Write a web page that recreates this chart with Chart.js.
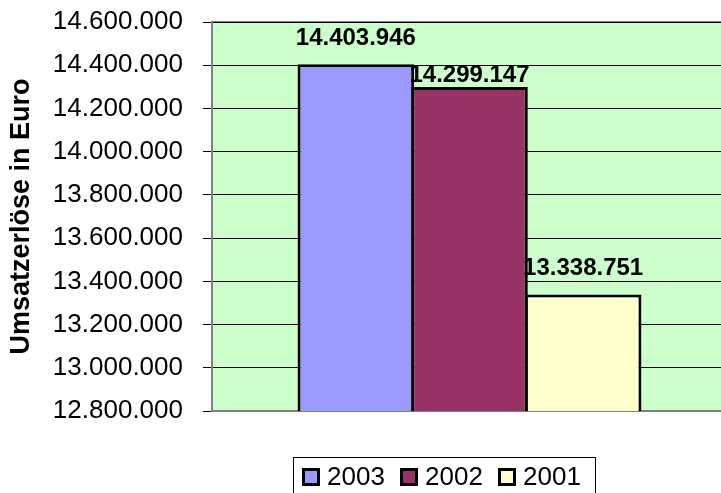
<!DOCTYPE html>
<html>
<head>
<meta charset="utf-8">
<script src="https://cdn.jsdelivr.net/npm/chart.js@4"></script>
<style>
  html, body { margin: 0; padding: 0; background: #fff; overflow: hidden; }
  #wrap { width: 740px; height: 493px; }
</style>
</head>
<body>
<div id="wrap"><canvas id="umsatz" width="740" height="493"></canvas></div>
<script>
  // values
  const years = ['2003', '2002', '2001'];
  const umsatz = [14403946, 14299147, 13338751];
  const barColors = ['#9999FF', '#993366', '#FFFFCC'];
  const yMin = 12800000, yMax = 14600000, yStep = 200000;

  const FONT = '"Liberation Sans", Arial, sans-serif';
  const fmt = v => String(Math.round(v)).replace(/\B(?=(\d{3})+(?!\d))/g, '.');

  // green plot area + top border
  const plotBg = {
    id: 'plotBg',
    beforeDraw(chart) {
      const {ctx, chartArea: a} = chart;
      ctx.save();
      ctx.fillStyle = '#CCFFCC';
      ctx.fillRect(a.left, a.top, a.right - a.left, a.bottom - a.top);
      ctx.strokeStyle = '#808080';
      ctx.lineWidth = 2;
      ctx.beginPath();
      ctx.moveTo(a.left, a.top); ctx.lineTo(a.right, a.top);
      ctx.stroke();
      ctx.restore();
    }
  };

  // value labels above bars
  const valueLabels = {
    id: 'valueLabels',
    afterDatasetsDraw(chart, args, opts) {
      const {ctx} = chart;
      ctx.save();
      ctx.font = 'bold 24px ' + FONT;
      ctx.fillStyle = '#000';
      ctx.textAlign = 'center';
      ctx.textBaseline = 'alphabetic';
      chart.data.datasets.forEach((ds, i) => {
        const bar = chart.getDatasetMeta(i).data[0];
        ctx.fillText(fmt(ds.data[0]), bar.x, bar.y - opts.gaps[i]);
      });
      ctx.restore();
    }
  };

  // boxed legend under the chart
  const boxLegend = {
    id: 'boxLegend',
    afterDraw(chart) {
      const {ctx} = chart;
      ctx.save();
      ctx.strokeStyle = '#000';
      ctx.lineWidth = 1;
      ctx.strokeRect(293.5, 457.5, 302, 60);
      ctx.font = '26px ' + FONT;
      ctx.textBaseline = 'middle';
      ctx.textAlign = 'left';
      chart.data.datasets.forEach((ds, i) => {
        const x = 302 + i * 98, y = 468;
        ctx.fillStyle = ds.backgroundColor;
        ctx.fillRect(x + 1.5, y + 1.5, 15, 15);
        ctx.lineWidth = 3;
        ctx.strokeRect(x + 1.5, y + 1.5, 15, 15);
        ctx.fillStyle = '#000';
        ctx.fillText(ds.label, x + 25, y + 10);
      });
      ctx.restore();
    }
  };

  new Chart(document.getElementById('umsatz'), {
    type: 'bar',
    data: {
      labels: [''],
      datasets: years.map((y, i) => ({
        label: y,
        data: [umsatz[i]],
        backgroundColor: barColors[i],
        borderColor: '#000',
        borderWidth: 3,
        borderSkipped: false
      }))
    },
    options: {
      responsive: false,
      animation: false,
      layout: { padding: { left: 0, right: 13, top: 22, bottom: 82 } },
      datasets: { bar: { categoryPercentage: 0.662, barPercentage: 1.026 } },
      plugins: {
        legend: { display: false },
        tooltip: { enabled: false },
        valueLabels: { gaps: [19, 5, 20] }
      },
      scales: {
        x: {
          grid: { display: false },
          ticks: { display: false },
          border: { color: '#808080', width: 2 },
          afterFit(s) { s.height = 0; s.paddingLeft = 0; s.paddingRight = 0; }
        },
        y: {
          min: yMin, max: yMax,
          afterFit(s) { s.width = 212; s.paddingTop = 0; s.paddingBottom = 0; },
          title: {
            display: true,
            text: 'Umsatzerlöse in Euro',
            color: '#000',
            font: { family: FONT, size: 27, weight: 'bold' },
            padding: { top: 5, bottom: 0 }
          },
          ticks: {
            stepSize: yStep,
            color: '#000',
            padding: 20,
            font: { family: FONT, size: 26 },
            callback: v => fmt(v)
          },
          grid: { color: '#000', lineWidth: 1, tickLength: 9 },
          border: { color: '#808080', width: 2 }
        }
      }
    },
    plugins: [plotBg, valueLabels, boxLegend]
  });
</script>
</body>
</html>
